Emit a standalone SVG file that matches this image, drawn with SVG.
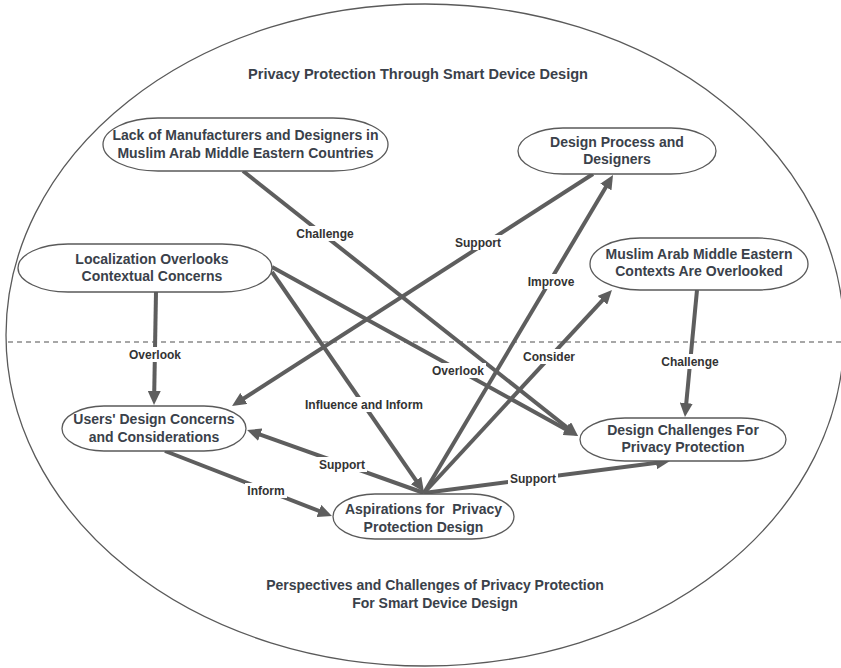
<svg xmlns="http://www.w3.org/2000/svg" width="841" height="668" viewBox="0 0 841 668">
<defs>
<marker id="ah" markerUnits="userSpaceOnUse" markerWidth="15" markerHeight="13" refX="3" refY="6.5" orient="auto">
<path d="M0,0 L14,6.5 L0,13 z" fill="#5e5e5e"/>
</marker>
<style>
.frame{fill:none;stroke:#5a5a5a;stroke-width:1.3}
.div{stroke:#8a8a8a;stroke-width:1.3;stroke-dasharray:5,4}
.node rect{fill:#fff;stroke:#5a5a5a;stroke-width:1.3}
.nt{font-family:"Liberation Sans",Arial,sans-serif;font-weight:bold;font-size:14px;fill:#3a414a;text-anchor:middle}
.title{font-family:"Liberation Sans",Arial,sans-serif;font-weight:bold;font-size:14px;fill:#3a414a;text-anchor:middle}
.conn line{stroke:#5e5e5e;stroke-width:4;marker-end:url(#ah)}
.lb rect{fill:#fff}
.lb text{font-family:"Liberation Sans",Arial,sans-serif;font-weight:bold;font-size:12px;fill:#333;text-anchor:middle}
</style>
</defs>
<ellipse class="frame" cx="425" cy="335" rx="419" ry="331"/>
<line class="div" x1="8" y1="342" x2="841" y2="342"/>
<text class="title" x="418" y="79" textLength="340" lengthAdjust="spacingAndGlyphs">Privacy Protection Through Smart Device Design</text>
<text class="title" x="435" y="590">Perspectives and Challenges of Privacy Protection</text>
<text class="title" x="435" y="608">For Smart Device Design</text>

<g id="connectors" class="conn">
<line x1="243" y1="171" x2="569.4" y2="429.2"/>
<line x1="593" y1="174" x2="241.3" y2="400"/>
<line x1="424" y1="493" x2="607.4" y2="184.5"/>
<line x1="424" y1="493" x2="604.5" y2="298.1"/>
<line x1="272" y1="267" x2="568.4" y2="430.7"/>
<line x1="272" y1="272" x2="417.7" y2="482.9"/>
<line x1="156" y1="292" x2="154.2" y2="394"/>
<line x1="697" y1="290" x2="686" y2="406"/>
<line x1="424" y1="493" x2="257.4" y2="433.7"/>
<line x1="165" y1="451" x2="321.7" y2="512"/>
<line x1="424" y1="493" x2="659.1" y2="462.4"/>
</g>

<g id="labels" class="lb">
<rect x="294" y="226" width="62" height="15"/><text x="325" y="237.5">Challenge</text>
<rect x="453" y="235" width="50" height="15"/><text x="478" y="246.5">Support</text>
<rect x="526" y="274" width="50" height="15"/><text x="551" y="285.5">Improve</text>
<rect x="522" y="349" width="54" height="15"/><text x="549" y="360.5">Consider</text>
<rect x="430" y="363" width="56" height="15"/><text x="458" y="374.5">Overlook</text>
<rect x="299" y="397" width="130" height="15"/><text x="364" y="408.5">Influence and Inform</text>
<rect x="127" y="347" width="56" height="15"/><text x="155" y="358.5">Overlook</text>
<rect x="659" y="354" width="62" height="15"/><text x="690" y="365.5">Challenge</text>
<rect x="317" y="457" width="50" height="15"/><text x="342" y="468.5">Support</text>
<rect x="245" y="483" width="42" height="15"/><text x="266" y="494.5">Inform</text>
<rect x="508" y="471" width="50" height="15"/><text x="533" y="482.5">Support</text>
</g>

<g id="n-lack" class="node">
<rect x="103" y="118" width="285" height="53" rx="55" ry="26.5"/>
<text class="nt" x="245.5" y="140">Lack of Manufacturers and Designers in</text>
<text class="nt" x="245.5" y="158">Muslim Arab Middle Eastern Countries</text>
</g>
<g id="n-process" class="node">
<rect x="518" y="128" width="198" height="46" rx="45" ry="23"/>
<text class="nt" x="617" y="147">Design Process and</text>
<text class="nt" x="617" y="164">Designers</text>
</g>
<g id="n-local" class="node">
<rect x="18" y="244" width="254" height="48" rx="50" ry="24"/>
<text class="nt" x="152" y="264">Localization Overlooks</text>
<text class="nt" x="152" y="281">Contextual Concerns</text>
</g>
<g id="n-contexts" class="node">
<rect x="590" y="238" width="218" height="52" rx="50" ry="26"/>
<text class="nt" x="699" y="259">Muslim Arab Middle Eastern</text>
<text class="nt" x="699" y="276">Contexts Are Overlooked</text>
</g>
<g id="n-users" class="node">
<rect x="62" y="406" width="184" height="45" rx="42" ry="22.5"/>
<text class="nt" x="154" y="424">Users' Design Concerns</text>
<text class="nt" x="154" y="442">and Considerations</text>
</g>
<g id="n-challenges" class="node">
<rect x="580" y="418" width="206" height="43" rx="45" ry="21.5"/>
<text class="nt" x="683" y="435">Design Challenges For</text>
<text class="nt" x="683" y="452">Privacy Protection</text>
</g>
<g id="n-aspirations" class="node">
<rect x="333" y="494" width="181" height="45" rx="42" ry="22.5"/>
<text class="nt" x="423.5" y="514" xml:space="preserve">Aspirations for  Privacy</text>
<text class="nt" x="423.5" y="532">Protection Design</text>
</g>
</svg>
